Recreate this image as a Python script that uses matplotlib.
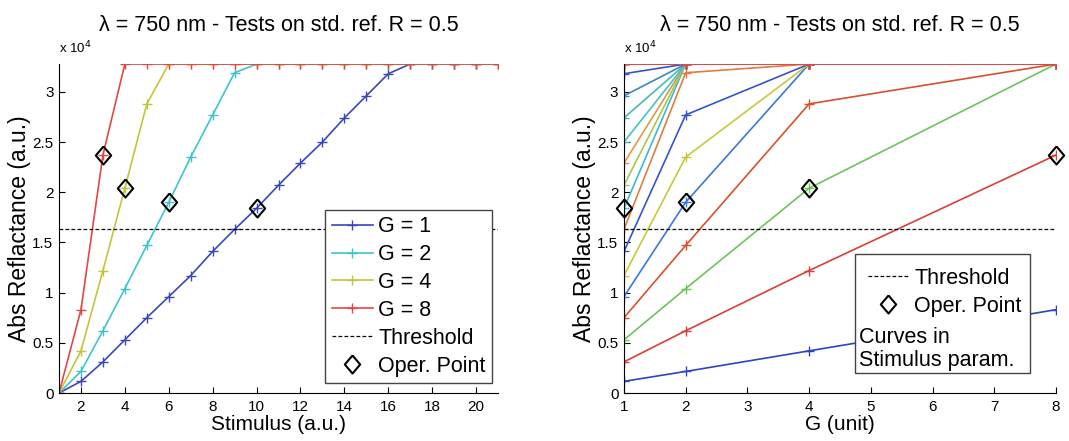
import matplotlib
matplotlib.use("Agg")
import matplotlib.pyplot as plt
import numpy as np
from matplotlib.patches import Rectangle
from matplotlib.ticker import FuncFormatter

plt.rcParams['font.family'] = ['Liberation Sans', 'DejaVu Sans']

# stimulus steps and raw reflectance counts for each gain
stimulus = np.arange(1, 22)
gains = [1, 2, 4, 8]
sat = 32767
threshold = 16384

refl_g1 = [0, 1160, 3100, 5300, 7500, 9600, 11700, 14100, 16300, 18400, 20700,
           22900, 25000, 27400, 29600, 31800, sat, sat, sat, sat, sat]
refl_g2 = [0, 2150, 6200, 10400, 14700, 19000, 23500, 27700, 31900, sat, sat,
           sat, sat, sat, sat, sat, sat, sat, sat, sat, sat]
refl_g4 = [0, 4200, 12200, 20400, 28800, sat, sat, sat, sat, sat, sat,
           sat, sat, sat, sat, sat, sat, sat, sat, sat, sat]
refl_g8 = [0, 8300, 23700, sat, sat, sat, sat, sat, sat, sat, sat,
           sat, sat, sat, sat, sat, sat, sat, sat, sat, sat]

# operating point: stimulus used for each gain
oper_stim = [10, 6, 4, 3]

g_colors = ['#3a48b8', '#3fc4cc', '#c4c43c', '#e04848']
# one colour per stimulus curve (stimulus 2..21) on the right panel
s_colors = ['#2c44c0', '#d84038', '#6cc45c', '#d8502c', '#3a78d8', '#c8c83c',
            '#3454c8', '#e07c3c', '#3cb8d8', '#a8c848', '#e09848', '#40c4c8',
            '#48b8b8', '#3a88c8', '#3454c8', '#e04848', '#e04848', '#e04848',
            '#e04848', '#e04848']

refl = np.array([refl_g1, refl_g2, refl_g4, refl_g8])

# slightly tall diamond for the operating points
diamond = [(0, 1), (0.85, 0), (0, -1), (-0.85, 0), (0, 1)]
op_style = dict(marker=diamond, ls='none', mfc='none', mec='k', ms=13, mew=1.5)
th_style = dict(ls='--', color='k', lw=0.9, dashes=(3, 1.8))

fig = plt.figure(figsize=(10.69, 4.41), dpi=100)
ax1 = fig.add_axes([0.0552, 0.1088, 0.4107, 0.746])
ax2 = fig.add_axes([0.5837, 0.1088, 0.4041, 0.746])

title = '\u03bb = 750 nm - Tests on std. ref. R = 0.5'
yfmt = FuncFormatter(lambda v, p: '%g' % (v / 1e4))

for ax in (ax1, ax2):
    ax.spines['top'].set_visible(False)
    ax.spines['right'].set_visible(False)
    ax.tick_params(direction='in', labelsize=11, length=4.5, pad=5)
    ax.tick_params(axis='y', pad=4)
    ax.set_ylim(0, sat)
    ax.set_yticks(np.arange(0, 30001, 5000))
    ax.yaxis.set_major_formatter(yfmt)
    ax.set_title(title, fontsize=15.5, pad=24)
    ax.set_ylabel('Abs Reflactance (a.u.)', fontsize=16.5, labelpad=1)
    ax.text(0.0, 1.025, 'x 10$^4$', transform=ax.transAxes, fontsize=9.5,
            ha='left', va='bottom')

# left panel: reflectance vs stimulus, one line per gain
handles = []
for i, g in enumerate(gains):
    h, = ax1.plot(stimulus, refl[i], '-+', color=g_colors[i], lw=1.2, ms=7,
                  mew=1.0, label='G = %d' % g)
    handles.append(h)
th, = ax1.plot([1, 21], [threshold, threshold], **th_style)
for i, s in enumerate(oper_stim):
    op, = ax1.plot(s, refl[i][s - 1], **op_style)
ax1.set_xlim(1, 21)
ax1.set_xticks(np.arange(2, 21, 2))
ax1.set_xlabel('Stimulus (a.u.)', fontsize=15, labelpad=1)
leg = ax1.legend(handles + [th, op],
                 ['G = 1', 'G = 2', 'G = 4', 'G = 8', 'Threshold', 'Oper. Point'],
                 loc='lower right', bbox_to_anchor=(0.986, 0.03), borderaxespad=0,
                 fontsize=15.5, fancybox=False, edgecolor='#444444', framealpha=1,
                 handlelength=1.9, labelspacing=0.32, handletextpad=0.25,
                 borderpad=0.3)
leg.get_frame().set_linewidth(1.0)

# right panel: reflectance vs gain, one line per stimulus
for j, s in enumerate(stimulus[1:]):
    ax2.plot(gains, refl[:, s - 1], '-+', color=s_colors[j], lw=1.2, ms=7, mew=1.0)
ax2.plot([1, 8], [threshold, threshold], **th_style)
for i, s in enumerate(oper_stim):
    ax2.plot(gains[i], refl[i][s - 1], clip_on=False, **op_style)
ax2.set_xlim(1, 8)
ax2.set_xticks(np.arange(1, 9))
ax2.set_xlabel('G (unit)', fontsize=15, labelpad=1)

ax2.add_patch(Rectangle((0.535, 0.061), 0.405, 0.362, transform=ax2.transAxes,
                        facecolor='white', edgecolor='#444444', lw=1.0, zorder=5))
th2, = ax2.plot([], [], **th_style)
op2, = ax2.plot([], [], **op_style)
leg2 = ax2.legend([th2, op2], ['Threshold', 'Oper. Point'], loc='upper left',
                  bbox_to_anchor=(0.55, 0.40), borderaxespad=0, frameon=False,
                  fontsize=15.5, handlelength=1.9, labelspacing=0.32,
                  handletextpad=0.25, borderpad=0.3)
leg2.set_zorder(6)
ax2.text(0.543, 0.068, 'Curves in\nStimulus param.', transform=ax2.transAxes,
         fontsize=15.5, ha='left', va='bottom', linespacing=1.12, zorder=6)

fig.savefig('out.png', dpi=100)
